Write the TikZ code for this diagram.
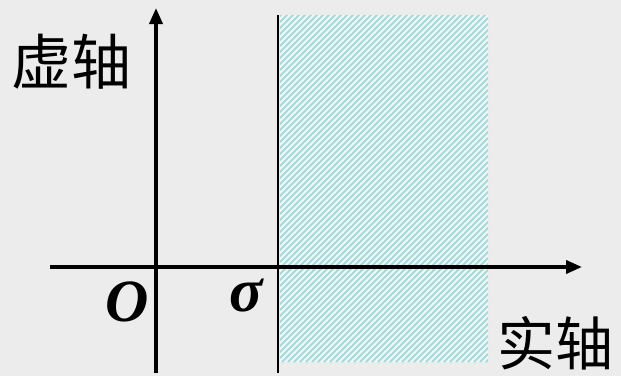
\documentclass[tikz,border=0pt]{standalone}
\usepackage{fontspec}
\setmainfont{Liberation Serif}
\newfontfamily\cjk{Noto Sans CJK SC}
\usetikzlibrary{arrows.meta}
\definecolor{bg}{HTML}{ECECEC}
\definecolor{hatch}{HTML}{A6DADB}
\tikzset{
  axis/.style={line width=3.6pt, -{Triangle[length=16pt,width=13pt]}},
  plainline/.style={line width=2.6pt},
  lbl/.style={inner sep=0pt, anchor=center}
}
\begin{document}
\begin{tikzpicture}[x=1pt,y=-1pt]
\fill[bg] (0,0) rectangle (621,376);
\useasboundingbox (0,0) rectangle (621,376);
% hatched region
\begin{scope}
\clip (280,15) rectangle (488,362);
\fill[white!80!hatch] (280,15) rectangle (488,362);
\foreach \k in {-400,-394,...,220}{
  \draw[hatch, line width=2pt] (280+\k,362) -- (280+\k+400,-38);
}
\end{scope}
% axes
\coordinate (xs) at (50,267);
\coordinate (xe) at (582,267);
\coordinate (ys) at (156,373);
\coordinate (ye) at (156,8);
\draw[axis] (xs) -- (xe);
\draw[axis] (ys) -- (ye);
\coordinate (ss) at (278,15);
\coordinate (se) at (278,373);
\draw[plainline] (ss) -- (se);
% labels
\node[lbl, font=\cjk\fontsize{60}{60}\selectfont] (imag) at (72,62) {虚轴};
\node[lbl, font=\cjk\fontsize{58}{58}\selectfont] (real) at (555,343) {实轴};
\node[lbl, font=\fontsize{60}{60}\selectfont\bfseries\itshape] (O) at (127,302) {O};
\node[lbl, font=\fontsize{62}{62}\selectfont\bfseries\itshape] (sig) at (246,296) {σ};
\end{tikzpicture}
\end{document}
